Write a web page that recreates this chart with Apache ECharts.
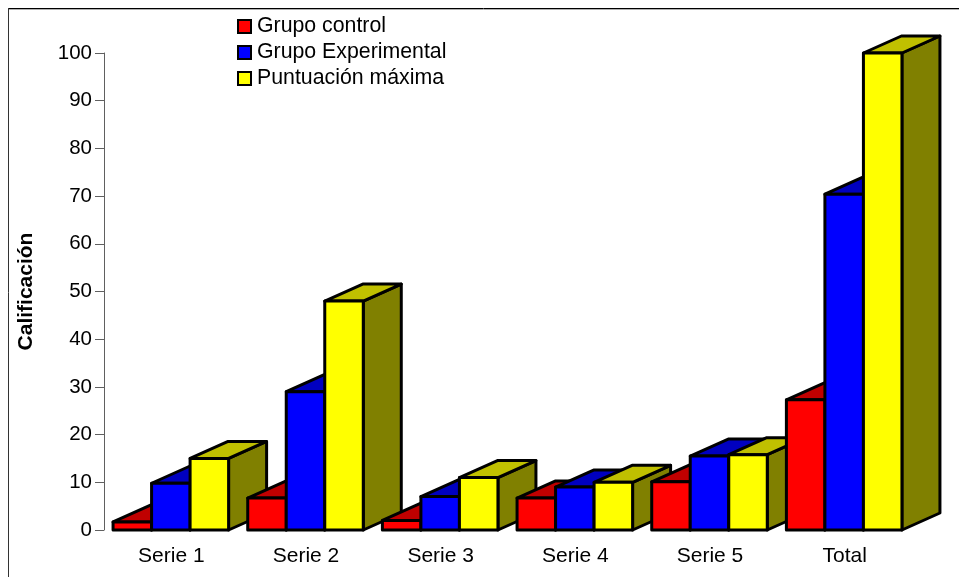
<!DOCTYPE html>
<html>
<head>
<meta charset="utf-8">
<style>
  html, body { margin: 0; padding: 0; background: #fff; }
  #chart { width: 959px; height: 577px; }
</style>
<script src="https://cdn.jsdelivr.net/npm/echarts@6/dist/echarts.min.js"></script>
</head>
<body>
<div id="chart"></div>
<script>
var categories = ['Serie 1', 'Serie 2', 'Serie 3', 'Serie 4', 'Serie 5', 'Total'];
var grupoControl = [1.7, 6.7, 2, 6.7, 10.1, 27.3];
var grupoExperimental = [9.8, 29, 7, 9, 15.5, 70.4];
var puntuacionMaxima = [15, 48, 11, 10, 15.8, 100];
var yTicks = { min: 0, max: 100, interval: 10 };

var depthX = 38;
var depthY = 17;
var barShare = 0.286; // share of the category band taken by one bar

function makeRender(seriesIndex, front, top, side) {
  return function (params, api) {
    var cat = api.value(0);
    var base = api.coord([cat, 0]);
    var head = api.coord([cat, api.value(1)]);
    var band = api.size([1, 0])[0];
    var w = band * barShare;
    var x0 = base[0] + (seriesIndex - 1.5) * w - 0.5;
    var x1 = x0 + w;
    var yb = base[1];
    var yt = head[1];
    var line = { stroke: '#000', lineWidth: 3, lineJoin: 'round' };
    function poly(points, color) {
      return {
        type: 'polygon',
        // later categories sit in front of earlier ones
        z2: cat * 10 + seriesIndex,
        shape: { points: points },
        style: Object.assign({ fill: color }, line)
      };
    }
    return {
      type: 'group',
      children: [
        poly([[x1, yb], [x1 + depthX, yb - depthY], [x1 + depthX, yt - depthY], [x1, yt]], side),
        poly([[x0, yt], [x0 + depthX, yt - depthY], [x1 + depthX, yt - depthY], [x1, yt]], top),
        poly([[x0, yb], [x1, yb], [x1, yt], [x0, yt]], front)
      ]
    };
  };
}

function makeSeries(name, values, idx, front, top, side) {
  return {
    name: name,
    type: 'custom',
    coordinateSystem: 'cartesian2d',
    renderItem: makeRender(idx, front, top, side),
    itemStyle: { color: front, borderColor: '#000', borderWidth: 3 },
    encode: { x: 0, y: 1 },
    clip: false,
    animation: false,
    data: values.map(function (v, i) { return [i, v]; })
  };
}

var chart = echarts.init(document.getElementById('chart'), null, { renderer: 'canvas' });
chart.setOption({
  animation: false,
  backgroundColor: '#fff',
  textStyle: { fontFamily: '"Liberation Sans", Arial, sans-serif' },
  grid: { left: 104, right: 47, top: 53, bottom: 47 },
  legend: {
    left: 232,
    top: 11,
    orient: 'vertical',
    itemWidth: 13,
    itemHeight: 13,
    itemGap: 5,
    icon: 'rect',
    selectedMode: false,
    textStyle: { fontSize: 21.3, color: '#000', padding: [2, 0, 0, 1] },
    data: ['Grupo control', 'Grupo Experimental', 'Puntuación máxima']
  },
  xAxis: {
    type: 'category',
    data: categories,
    splitLine: { show: false },
    axisLine: { show: false },
    axisTick: { show: false },
    axisLabel: { fontSize: 21, color: '#000', margin: 16 }
  },
  yAxis: {
    type: 'value',
    min: yTicks.min,
    max: yTicks.max,
    interval: yTicks.interval,
    name: 'Calificación',
    nameLocation: 'middle',
    nameRotate: 90,
    nameGap: 67,
    nameTextStyle: { fontSize: 21, fontWeight: 'bold', color: '#000' },
    splitLine: { show: false },
    axisLine: { show: true, lineStyle: { color: '#606060', width: 1 } },
    axisTick: { show: true, length: 9, lineStyle: { color: '#606060', width: 1 } },
    axisLabel: { fontSize: 20.5, color: '#000', margin: 12 }
  },
  graphic: [
    { type: 'line', shape: { x1: 8, y1: 8.5, x2: 959, y2: 8.5 }, style: { stroke: '#000', lineWidth: 1 } },
    { type: 'line', shape: { x1: 8, y1: 9.5, x2: 959, y2: 9.5 }, style: { stroke: '#b0b0b0', lineWidth: 1 } },
    { type: 'line', shape: { x1: 8.5, y1: 8, x2: 8.5, y2: 577 }, style: { stroke: '#333', lineWidth: 1 } }
  ],
  series: [
    makeSeries('Grupo control', grupoControl, 0, '#ff0000', '#c00000', '#800000'),
    makeSeries('Grupo Experimental', grupoExperimental, 1, '#0000ff', '#0000c0', '#000080'),
    makeSeries('Puntuación máxima', puntuacionMaxima, 2, '#ffff00', '#c0c000', '#808000')
  ]
});
</script>
</body>
</html>
